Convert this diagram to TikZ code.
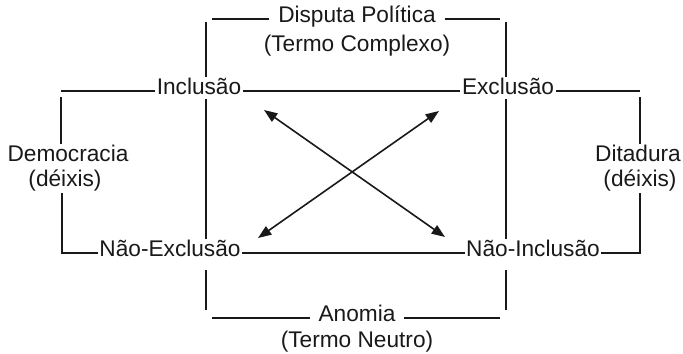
\documentclass[tikz,border=0pt]{standalone}
\usepackage{fontspec}
\setmainfont{Liberation Sans}
\usetikzlibrary{arrows.meta,positioning}

\begin{document}
\begin{tikzpicture}[x=0.75pt,y=-0.75pt,
    lbl/.style={anchor=mid, inner sep=1pt, text=black!90, font=\fontsize{17}{19}\selectfont},
    ttl/.style={lbl, inner sep=6.5pt},
    brk/.style={line width=1.5pt, black!90},
    arr/.style={line width=1.2pt, black!90, {Triangle[length=10pt,width=7.5pt]}-{Triangle[length=10pt,width=7.5pt]}}]
    \useasboundingbox (0,0) rectangle (683,354);

    % Corners of the brackets
    \coordinate (ctl) at (206,19);
    \coordinate (ctr) at (506,19);
    \coordinate (cbl) at (206,318);
    \coordinate (cbr) at (506,318);
    \coordinate (col) at (61,91);
    \coordinate (cor) at (640,91);
    \coordinate (cobl) at (62,253);
    \coordinate (cobr) at (640,253);

    % Labels
    \node[ttl] (disp) at (357,19) {Disputa Política};
    \node[lbl] (tc) at (357,48) {(Termo Complexo)};
    \node[lbl] (inc) at (199,91) {Inclusão};
    \node[lbl] (exc) at (508,91) {Exclusão};
    \node[lbl] (nexc) at (170,253) {Não-Exclusão};
    \node[lbl] (ninc) at (533,253) {Não-Inclusão};
    \node[lbl] (dem) at (68,158) {Democracia};
    \node[lbl] (ddem) at (65,183) {(déixis)};
    \node[lbl] (dit) at (638,158) {Ditadura};
    \node[lbl] (ddit) at (640,183) {(déixis)};
    \node[ttl] (ano) at (357,318) {Anomia};
    \node[lbl] (tn) at (357,344) {(Termo Neutro)};

    % Upper bracket
    \draw[brk, shorten >=4.5pt] (disp.mid west) -- (ctl);
    \draw[brk, shorten >=4.5pt] (disp.mid east) -- (ctr);
    \draw[brk, shorten <=2pt] (ctl) -- (ctl |- inc.north);
    \draw[brk, shorten <=2pt] (ctr) -- (ctr |- exc.north);

    % Inner square
    \draw[brk] (inc.mid east) -- (exc.mid west);
    \draw[brk] (nexc.mid east) -- (ninc.mid west);
    \draw[brk, shorten <=2pt] (inc.south -| ctl) -- (nexc.north -| ctl);
    \draw[brk, shorten <=2pt] (exc.south -| ctr) -- (ninc.north -| ctr);

    % Lower bracket
    \draw[brk, shorten <=9pt, shorten >=6pt] (nexc.south -| cbl) -- (cbl);
    \draw[brk, shorten <=9pt, shorten >=6pt] (ninc.south -| cbr) -- (cbr);
    \draw[brk, shorten >=4.5pt] (ano.mid west) -- (cbl);
    \draw[brk, shorten >=4.5pt] (ano.mid east) -- (cbr);

    % Left bracket (Democracia)
    \draw[brk] (inc.mid west) -- (col);
    \draw[brk, shorten <=4.5pt] (col) -- (col |- dem.north);
    \draw[brk] (ddem.south -| cobl) -- (cobl) -- (nexc.mid west);

    % Right bracket (Ditadura)
    \draw[brk] (exc.mid east) -- (cor);
    \draw[brk, shorten <=4.5pt] (cor) -- (cor |- dit.north);
    \draw[brk] (ddit.south -| cobr) -- (cobr) -- (ninc.mid east);

    % Crossing arrows
    \coordinate (a1) at (264,110);
    \coordinate (a2) at (445,237);
    \coordinate (b1) at (439,111);
    \coordinate (b2) at (258,238);
    \draw[arr] (a1) -- (a2);
    \draw[arr] (b1) -- (b2);
\end{tikzpicture}
\end{document}
